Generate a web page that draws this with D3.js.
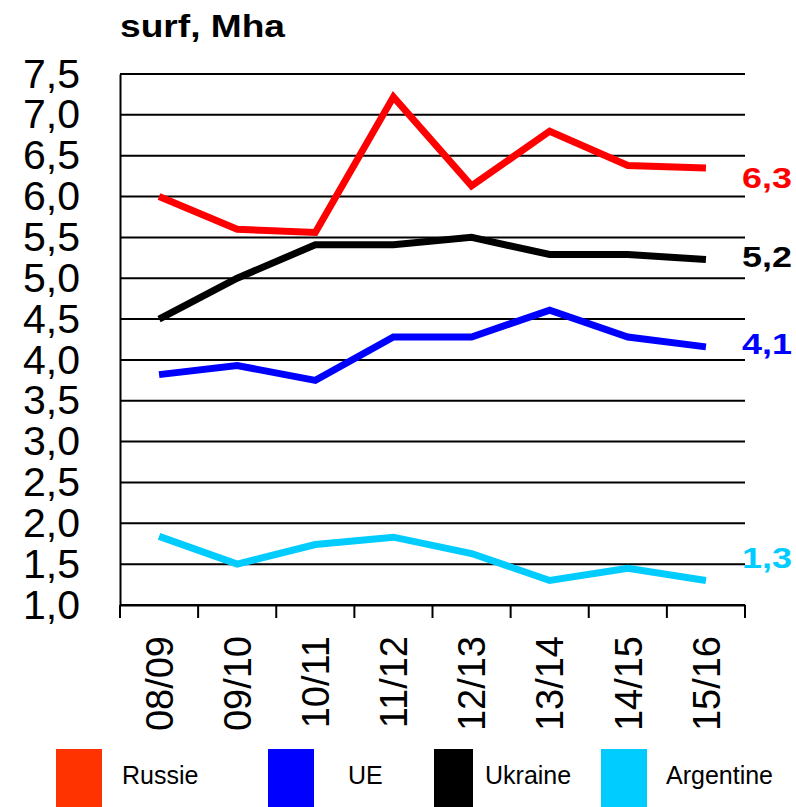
<!DOCTYPE html>
<html>
<head>
<meta charset="utf-8">
<script src="https://cdn.jsdelivr.net/npm/d3@7"></script>
<style>
  body { margin: 0; background: #fff; }
  text { font-family: "Liberation Sans", Arial, sans-serif; }
</style>
</head>
<body>
<div id="chart"></div>
<script>
// campagnes
const seasons = ["08/09", "09/10", "10/11", "11/12", "12/13", "13/14", "14/15", "15/16"];

// surfaces, Mha
const russie = [6.0, 5.6, 5.56, 7.22, 6.13, 6.8, 6.38, 6.35];
const ue = [3.82, 3.93, 3.75, 4.28, 4.28, 4.61, 4.28, 4.16];
const ukraine = [4.5, 5.0, 5.41, 5.41, 5.5, 5.29, 5.29, 5.23];
const argentine = [1.84, 1.5, 1.74, 1.83, 1.63, 1.3, 1.45, 1.3];

const yTicks = [1.0, 1.5, 2.0, 2.5, 3.0, 3.5, 4.0, 4.5, 5.0, 5.5, 6.0, 6.5, 7.0, 7.5];

const series = [
    { name: "Russie", values: russie, color: "#ff0000", legend: "#ff3300", label: "6,3" },
    { name: "UE", values: ue, color: "#0000ff", legend: "#0000ff", label: "4,1" },
    { name: "Ukraine", values: ukraine, color: "#000000", legend: "#000000", label: "5,2" },
    { name: "Argentine", values: argentine, color: "#00ccff", legend: "#00ccff", label: "1,3" }
];

const width = 796, height = 807;
const margin = { top: 74, right: 51, bottom: 202, left: 120 };

const svg = d3.select('#chart')
    .append('svg')
    .attr('width', width)
    .attr('height', height);

const x = d3.scaleBand()
    .domain(seasons)
    .range([margin.left, width - margin.right]);

const y = d3.scaleLinear()
    .domain([1, 7.5])
    .range([height - margin.bottom, margin.top]);

// titre
svg.append('text')
    .attr('x', 120)
    .attr('y', 37)
    .attr('font-size', '31px')
    .attr('font-weight', 'bold')
    .attr('textLength', 165)
    .attr('lengthAdjust', 'spacingAndGlyphs')
    .text('surf, Mha');

// grille horizontale
svg.append('g')
    .selectAll('line')
    .data(yTicks)
    .enter()
    .append('line')
    .attr('x1', margin.left)
    .attr('x2', width - margin.right)
    .attr('y1', d => y(d))
    .attr('y2', d => y(d))
    .attr('stroke', '#000')
    .attr('stroke-width', 2);

// axe y
const yAxis = svg.append('g')
    .attr('transform', `translate(${margin.left},0)`)
    .call(d3.axisLeft(y).tickValues(yTicks).tickSize(0).tickPadding(40)
        .tickFormat(d => d3.format('.1f')(d).replace('.', ',')));
yAxis.select('.domain').attr('stroke', '#000').attr('stroke-width', 2);
yAxis.selectAll('text')
    .attr('font-size', '41px')
    .attr('fill', '#000')
    .attr('dy', '0.32em');

// axe x
const xAxis = svg.append('g')
    .attr('transform', `translate(0,${height - margin.bottom})`)
    .call(d3.axisBottom(x).tickSize(0).tickPadding(0));
xAxis.select('.domain').attr('stroke', '#000').attr('stroke-width', 2);
xAxis.selectAll('text')
    .attr('font-size', '38px')
    .attr('fill', '#000')
    .attr('text-anchor', 'end')
    .attr('transform', 'rotate(-90)')
    .attr('x', -31)
    .attr('y', 0)
    .attr('dy', '0.36em');

// graduations entre les catégories
const bounds = seasons.map(s => x(s)).concat([x.range()[1]]);
svg.append('g')
    .selectAll('line')
    .data(bounds)
    .enter()
    .append('line')
    .attr('x1', d => d)
    .attr('x2', d => d)
    .attr('y1', height - margin.bottom)
    .attr('y2', height - margin.bottom + 13)
    .attr('stroke', '#000')
    .attr('stroke-width', 2);

// courbes
const line = d3.line()
    .x((d, i) => x(seasons[i]) + x.bandwidth() / 2)
    .y(d => y(d));

svg.append('g')
    .selectAll('path')
    .data(series)
    .enter()
    .append('path')
    .attr('d', d => line(d.values))
    .attr('fill', 'none')
    .attr('stroke', d => d.color)
    .attr('stroke-width', 7)
    .attr('stroke-linejoin', 'miter');

// étiquettes en fin de courbe
const endOffset = { "Russie": 9, "UE": -4, "Ukraine": -3, "Argentine": -23 };
svg.append('g')
    .selectAll('text')
    .data(series)
    .enter()
    .append('text')
    .attr('x', 742)
    .attr('y', d => y(d.values[d.values.length - 1]) + endOffset[d.name])
    .attr('dy', '0.36em')
    .attr('font-size', '30px')
    .attr('font-weight', 'bold')
    .attr('textLength', 50)
    .attr('lengthAdjust', 'spacingAndGlyphs')
    .attr('fill', d => d.color)
    .text(d => d.label);

// légende
const legendX = { "Russie": [56, 122], "UE": [268, 348], "Ukraine": [434, 485], "Argentine": [601, 666] };
const legendW = { "Russie": 46, "UE": 46, "Ukraine": 39, "Argentine": 46 };
const legend = svg.append('g')
    .selectAll('g')
    .data(series)
    .enter()
    .append('g');

legend.append('rect')
    .attr('x', d => legendX[d.name][0])
    .attr('y', 749)
    .attr('width', d => legendW[d.name])
    .attr('height', 58)
    .attr('fill', d => d.legend);

legend.append('text')
    .attr('x', d => legendX[d.name][1])
    .attr('y', 775)
    .attr('dy', '0.36em')
    .attr('font-size', '25px')
    .attr('fill', '#000')
    .text(d => d.name);
</script>
</body>
</html>
